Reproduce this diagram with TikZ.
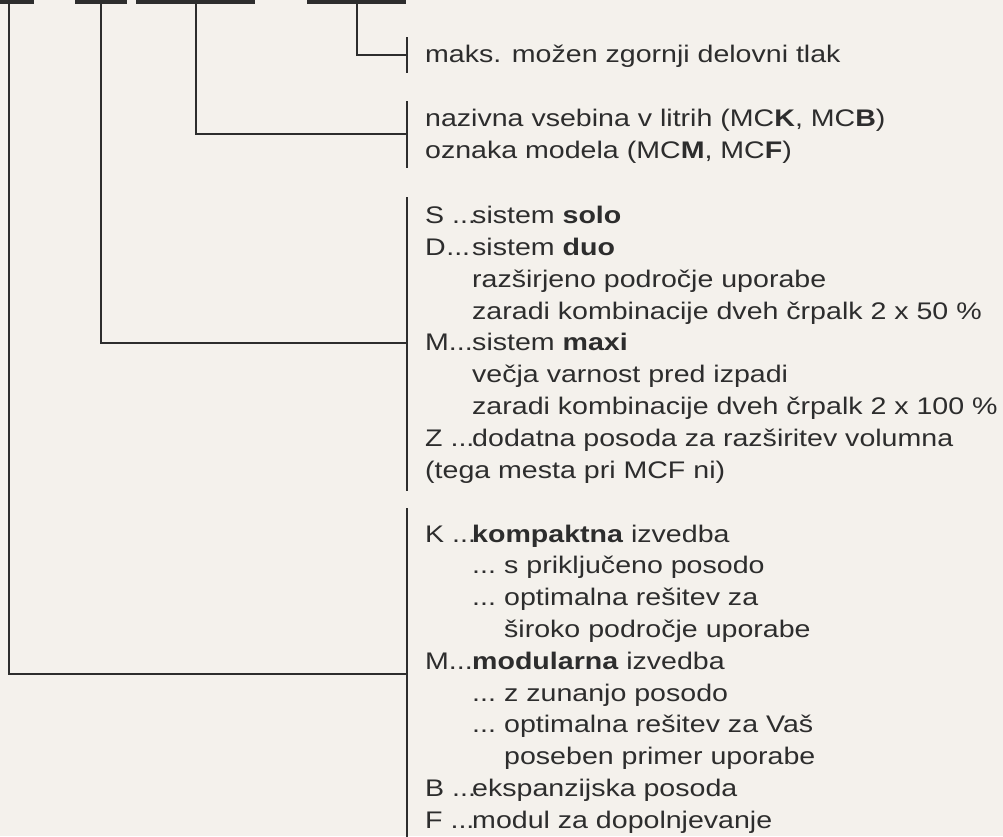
\documentclass[tikz,border=0pt]{standalone}
\usepackage{fontspec}
\setmainfont{Liberation Sans}[FakeStretch=1.19]
\usepackage{tikz}
\definecolor{paper}{RGB}{244, 241, 236}
\definecolor{ink}{RGB}{45, 45, 45}

\newcommand{\keyof}[1]{\makebox[47pt][l]{#1\hfill...\hspace*{2pt}}}
\newcommand{\indone}{\hspace*{47pt}}
\newcommand{\subdots}{\hspace*{47pt}\makebox[32pt][l]{...}}
\newcommand{\indtwo}{\hspace*{79pt}}

\tikzset{
  codebox/.style={fill=ink, draw=none, inner sep=0pt, minimum height=24pt},
  link/.style={ink, line width=2pt},
  bracket/.style={ink, line width=2pt},
  legend/.style={anchor=base west, align=left, inner sep=0pt, text=ink,
    font=\fontsize{24}{31.8}\selectfont}
}

\begin{document}
\begin{tikzpicture}[x=1pt, y=-1pt]
  \fill[paper] (0, 0) rectangle (1003, 836);
  \useasboundingbox (0, 0) rectangle (1003, 836);

  % Code boxes, cut off at the top
  \foreach \n/\xl/\xr in {1/-16/34, 2/75/127, 3/136/255, 4/307/406} {
    \node[codebox, minimum width={\xr - \xl}] (bar\n) at ({(\xl + \xr) / 2}, -8) {};
  }

  % Brackets in front of the texts
  \foreach \yt/\yb in {37/73, 101/168, 197/491, 508/840} {
    \draw[bracket] (407, \yt) -- (407, \yb);
  }

  % Connectors
  \foreach \n/\y in {1/674, 2/343, 3/134, 4/55} {
    \coordinate (hook\n) at (407, \y);
    \draw[link] (bar\n.south) |- (hook\n);
  }

  % Texts (base = baseline of the last line)
  \node[legend] (txt4) at (425, 62.7) {maks. možen zgornji delovni tlak};
  \node[legend] (txt3) at (425, 158.3) {nazivna vsebina v litrih (MC\textbf{K}, MC\textbf{B})\\
    oznaka modela (MC\textbf{M}, MC\textbf{F})};
  \node[legend] (txt2) at (425, 478) {\keyof{S }sistem \textbf{solo}\\
    \keyof{D}sistem \textbf{duo}\\
    \indone razširjeno področje uporabe\\
    \indone zaradi kombinacije dveh črpalk 2 x 50 \%\\
    \keyof{M}sistem \textbf{maxi}\\
    \indone večja varnost pred izpadi\\
    \indone zaradi kombinacije dveh črpalk 2 x 100 \%\\
    \keyof{Z }dodatna posoda za razširitev volumna\\
    (tega mesta pri MCF ni)};
  \node[legend] (txt1) at (425, 828.3) {\keyof{K }\textbf{kompaktna} izvedba\\
    \subdots s priključeno posodo\\
    \subdots optimalna rešitev za\\
    \indtwo široko področje uporabe\\
    \keyof{M}\textbf{modularna} izvedba\\
    \subdots z zunanjo posodo\\
    \subdots optimalna rešitev za Vaš\\
    \indtwo poseben primer uporabe\\
    \keyof{B }ekspanzijska posoda\\
    \keyof{F }modul za dopolnjevanje};
\end{tikzpicture}
\end{document}
